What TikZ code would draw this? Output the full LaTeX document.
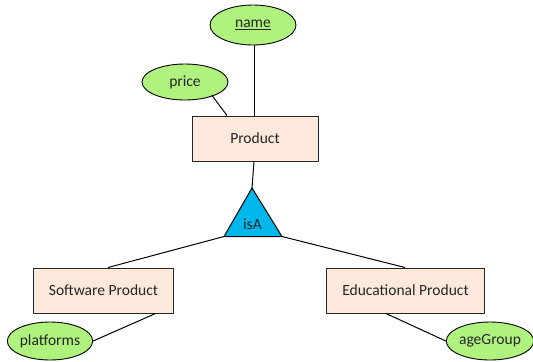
\documentclass[tikz,border=0pt]{standalone}
\usepackage{fontspec}
\setmainfont{Carlito}
\usetikzlibrary{shapes.geometric}
\begin{document}
\begin{tikzpicture}[x=1bp,y=-1bp,
  every node/.style={font=\fontsize{15.6}{18}\selectfont, text=black!85},
  attr/.style={ellipse, draw=black, line width=0.9bp, fill=attrgreen, inner sep=0pt},
  ent/.style={rectangle, draw=black!85, line width=1bp, fill=entpeach, inner sep=0pt, minimum height=45bp},
  conn/.style={draw=black, line width=1bp}]
\definecolor{attrgreen}{RGB}{176,242,126}
\definecolor{entpeach}{RGB}{252,233,220}
\definecolor{isacyan}{RGB}{0,183,235}
\useasboundingbox (0,0) rectangle (533,361);
% entities
\node[ent, minimum width=126bp] (prod) at (255,138.5) {Product};
\node[ent, minimum width=139bp] (sw) at (103.5,290.5) {Software Product};
\node[ent, minimum width=158bp] (ed) at (405.5,290.5) {Educational Product};
% attributes
\node[attr, minimum width=86bp, minimum height=40bp] (name) at (253,25) {\underline{name}};
\node[attr, minimum width=86bp, minimum height=36bp] (price) at (185,82) {price};
\node[attr, minimum width=85bp, minimum height=38bp] (plat) at (50,341) {platforms};
\node[attr, minimum width=78bp, minimum height=38bp] (age) at (490,341) {ageGroup};
% isA triangle
\coordinate (apex) at (252,188);
\coordinate (bl) at (224,236.5);
\coordinate (br) at (282,236.5);
\draw[draw=black, line width=1bp, fill=isacyan, line join=miter] (apex) -- (bl) -- (br) -- cycle;
\node (isa) at (252.5,224) {isA};
% connectors
\draw[conn] ([xshift=1.5bp]name.south) -- ([xshift=1.5bp]name.south |- prod.north);
\draw[conn] (price.south east) ++(-4,0) -- ([xshift=-28bp]prod.north);
\draw[conn] ([xshift=-1bp]prod.south) -- (apex);
\draw[conn] (bl) -- ([xshift=4.5bp]sw.north);
\draw[conn] (br) -- ([xshift=-0.5bp]ed.north);
\draw[conn] ([xshift=52bp]sw.south) -- (plat.east);
\draw[conn] ([xshift=-19.5bp]ed.south) -- (age.west);
\end{tikzpicture}
\end{document}
